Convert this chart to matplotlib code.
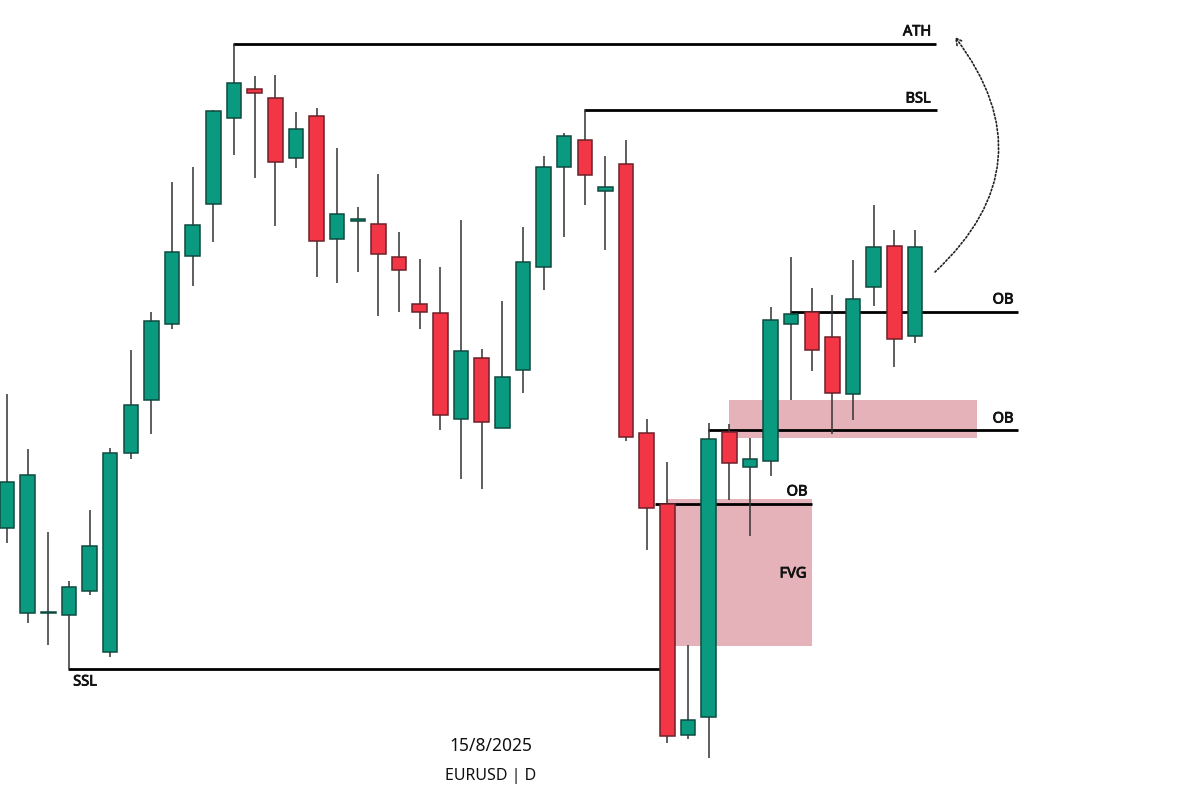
import matplotlib
matplotlib.use("Agg")
import matplotlib.pyplot as plt
import matplotlib.patheffects as pe
from matplotlib.patches import Rectangle

# Candles; prices are in the picture's vertical units (smaller = higher)
opens = [528, 613, 613, 615, 591, 652, 453, 400, 324, 256, 204, 118, 89, 98, 158, 116, 239, 221,
         224, 257, 304, 313, 419, 358, 428, 370, 267, 167, 140, 191, 164, 433, 504, 735, 717,
         432, 467, 461, 324, 312, 337, 394, 287, 246, 336]
closes = [482, 475, 612, 587, 546, 453, 405, 321, 252, 225, 111, 83, 93, 162, 129, 241, 214, 219,
          254, 270, 312, 415, 351, 422, 377, 262, 167, 136, 175, 187, 437, 508, 736, 720, 439,
          463, 459, 320, 314, 350, 393, 299, 247, 339, 247]
highs = [394, 449, 532, 581, 510, 448, 350, 312, 182, 167, 110, 44, 76, 75, 112, 108, 148, 207,
         174, 232, 259, 267, 220, 349, 301, 227, 156, 133, 110, 156, 140, 419, 462, 645, 423,
         424, 438, 307, 257, 288, 295, 260, 205, 230, 230]
lows = [543, 623, 645, 669, 595, 657, 459, 434, 329, 286, 242, 155, 178, 226, 168, 277, 283, 272,
        316, 312, 329, 430, 479, 489, 428, 393, 290, 237, 205, 250, 441, 550, 743, 739, 758,
        500, 536, 476, 400, 371, 434, 420, 306, 367, 343]

# Level lines: start candle position, end position, price, label
level_names = ["ATH", "BSL", "SSL", "OB", "OB", "OB"]
level_prices = [44, 110, 669, 312, 430, 504]
level_starts = [233, 584, 68, 790, 708, 655]
level_ends = [936, 937, 660, 1018, 1018, 812]

# Shaded zones: left, right, top, bottom
zone_lefts = [667, 729]
zone_rights = [812, 977]
zone_tops = [499, 400]
zone_bottoms = [646, 438]

GREEN, RED = "#0A9A80", "#F23645"
GREEN_EDGE, RED_EDGE = "#0E4A40", "#6E2029"
PINK = "#E4B2B8"
WICK = "#333333"
FONT = ["Noto Sans", "DejaVu Sans"]

fig = plt.figure(figsize=(12, 8.11), dpi=100, facecolor="white")
ax = fig.add_axes([0, 0, 1, 1])
ax.set_xlim(0, 1200)
ax.set_ylim(811, 0)
ax.axis("off")

STEP = 20.636
X0 = 7.0
BODY = 14.6

for l, r, t, b in zip(zone_lefts, zone_rights, zone_tops, zone_bottoms):
    ax.add_patch(Rectangle((l, t), r - l, b - t, facecolor=PINK, edgecolor="none", zorder=1))

for p, s, e in zip(level_prices, level_starts, level_ends):
    ax.plot([s, e], [p, p], color="black", lw=2.0, solid_capstyle="butt", zorder=2)

for i, (o, c, h, l) in enumerate(zip(opens, closes, highs, lows)):
    x = X0 + STEP * i
    up = c < o or (i in (2, 17, 29))
    face = GREEN if up else RED
    edge = GREEN_EDGE if up else RED_EDGE
    ax.plot([x, x], [h, l], color=WICK, lw=1.1, solid_capstyle="butt", zorder=3)
    ax.add_patch(Rectangle((x - BODY / 2, min(o, c)), BODY, max(abs(o - c), 0.6),
                           facecolor=face, edgecolor=edge, lw=1.1, zorder=4))

label_style = dict(family=FONT, fontsize=10.5, color="#111111", ha="center", va="center", zorder=6,
                   path_effects=[pe.withStroke(linewidth=0.6, foreground="#111111")])
ax.text(917, 32, "ATH", **label_style)
ax.text(918, 99, "BSL", **label_style)
ax.text(85, 682, "SSL", **label_style)
ax.text(1003, 300, "OB", **label_style)
ax.text(1003, 419, "OB", **label_style)
ax.text(797, 492, "OB", **label_style)
ax.text(793, 574, "FVG", **label_style)

ax.text(491, 746, "15/8/2025", family=FONT, fontsize=12.5, color="#111111", ha="center", va="center")
ax.text(491, 776, "EURUSD | D", family=FONT, fontsize=11.5, color="#111111", ha="center", va="center")

ax.annotate("", xy=(955, 37), xytext=(935, 272),
            arrowprops=dict(arrowstyle="->,head_length=0.45,head_width=0.25", color="#222222", lw=1.2,
                            linestyle=(0, (1.0, 1.3)), connectionstyle="arc3,rad=0.45",
                            shrinkA=0, shrinkB=0), zorder=6)

fig.savefig("out.png", dpi=100, facecolor="white")
